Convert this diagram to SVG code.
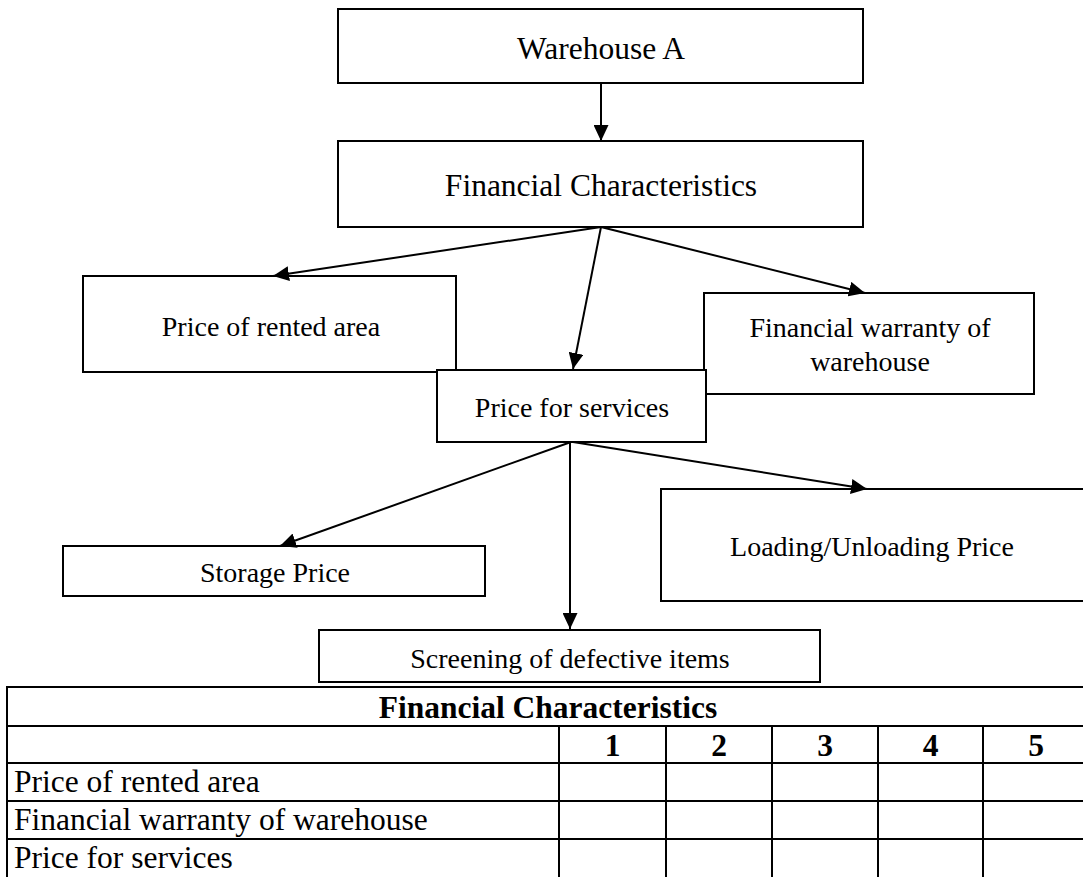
<svg xmlns="http://www.w3.org/2000/svg" width="1083" height="877" viewBox="0 0 1083 877">
  <defs>
    <marker id="arrow" markerUnits="userSpaceOnUse" markerWidth="16" markerHeight="15" refX="16" refY="7.5" orient="auto">
      <path d="M0,0 L16,7.5 L0,15 z" fill="#000"/>
    </marker>
  </defs>
  <style>
    .box { fill: #fff; stroke: #000; stroke-width: 2; }
    .lbl { font-family: "Liberation Serif", "Times New Roman", serif; fill: #000; text-anchor: middle; }
    .big { font-size: 31.5px; }
    .mid { font-size: 28px; }
    .edge { stroke: #000; stroke-width: 2; fill: none; marker-end: url(#arrow); }
    .grid { stroke: #000; stroke-width: 2; fill: none; }
    .cell { font-family: "Liberation Serif", "Times New Roman", serif; font-size: 31.5px; fill: #000; }
    .head { font-weight: bold; text-anchor: middle; }
  </style>
  <rect width="1083" height="877" fill="#fff"/>

  <g id="node-warehouse-a">
    <rect class="box" x="338" y="9" width="525" height="74"/>
    <text class="lbl big" x="601" y="58.5">Warehouse A</text>
  </g>

  <g id="node-financial-characteristics">
    <rect class="box" x="338" y="141" width="525" height="86"/>
    <text class="lbl big" x="601" y="195.5">Financial Characteristics</text>
  </g>

  <g id="node-price-rented-area">
    <rect class="box" x="83" y="276" width="373" height="96"/>
    <text class="lbl mid" x="271" y="336">Price of rented area</text>
  </g>

  <g id="node-financial-warranty">
    <rect class="box" x="704" y="293" width="330" height="101"/>
    <text class="lbl mid" x="870" y="337">Financial warranty of</text>
    <text class="lbl mid" x="870" y="371">warehouse</text>
  </g>

  <g id="node-price-services">
    <rect class="box" x="437" y="370" width="269" height="72"/>
    <text class="lbl mid" x="572" y="417">Price for services</text>
  </g>

  <g id="node-storage-price">
    <rect class="box" x="63" y="546" width="422" height="50"/>
    <text class="lbl mid" x="275" y="582">Storage Price</text>
  </g>

  <g id="node-loading-unloading">
    <rect class="box" x="661" y="489" width="440" height="112"/>
    <text class="lbl mid" x="872" y="556">Loading/Unloading Price</text>
  </g>

  <g id="node-screening">
    <rect class="box" x="319" y="630" width="501" height="52"/>
    <text class="lbl mid" x="570" y="668">Screening of defective items</text>
  </g>

  <g id="connectors">
    <line class="edge" x1="601" y1="83" x2="601" y2="141"/>
    <line class="edge" x1="601" y1="227" x2="273" y2="276"/>
    <line class="edge" x1="601" y1="227" x2="573" y2="369"/>
    <line class="edge" x1="601" y1="227" x2="865" y2="293"/>
    <line class="edge" x1="571" y1="442" x2="280" y2="546"/>
    <line class="edge" x1="570" y1="442" x2="570" y2="629"/>
    <line class="edge" x1="573" y1="442" x2="867" y2="489"/>
  </g>

  <g id="rating-table">
    <!-- horizontal rules -->
    <path class="grid" d="M7,687 H1090 M7,726 H1090 M7,763 H1090 M7,801 H1090 M7,839 H1090"/>
    <!-- vertical rules -->
    <path class="grid" d="M7,686 V880 M559,726 V880 M666,726 V880 M772,726 V880 M878,726 V880 M983,726 V880"/>
    <text class="cell head" x="548" y="718">Financial Characteristics</text>
    <text class="cell head" x="612.5" y="756">1</text>
    <text class="cell head" x="719" y="756">2</text>
    <text class="cell head" x="825" y="756">3</text>
    <text class="cell head" x="930.5" y="756">4</text>
    <text class="cell head" x="1036" y="756">5</text>
    <text class="cell" x="14" y="792">Price of rented area</text>
    <text class="cell" x="14" y="830">Financial warranty of warehouse</text>
    <text class="cell" x="14" y="868">Price for services</text>
  </g>
</svg>
